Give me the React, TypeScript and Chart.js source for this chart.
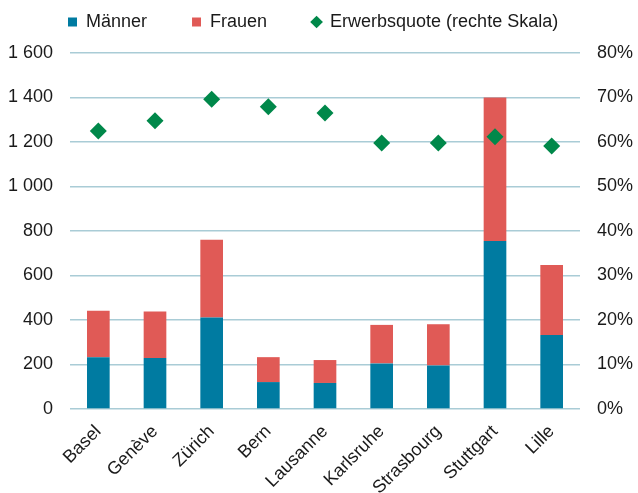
import React, { useEffect, useRef } from "react";
import { Chart, registerables } from "chart.js";

Chart.register(...registerables);

const categories = ["Basel", "Genève", "Zürich", "Bern", "Lausanne", "Karlsruhe", "Strasbourg", "Stuttgart", "Lille"];
const maenner = [233, 229, 411, 121, 117, 205, 196, 755, 333];
const frauen = [209, 209, 350, 112, 103, 173, 185, 645, 314];
const erwerbsquote = [62.5, 64.8, 69.6, 67.9, 66.5, 59.8, 59.8, 61.2, 59.1];
const leftTicks = [0, 200, 400, 600, 800, 1000, 1200, 1400, 1600];
const rightTicks = [0, 10, 20, 30, 40, 50, 60, 70, 80];

const BLUE = "#007BA1";
const RED = "#E05A56";
const GREEN = "#00884A";
const GRID = "#A9CCD6";
const TEXT = "#1a1a1a";
const FONT = "'Liberation Sans', Arial, sans-serif";
const COLORS = [BLUE, RED, GREEN];

const legendTweak = {
  id: "legendTweak",
  beforeInit(chart: any) {
    const lg = chart.legend;
    if (!lg) return;
    const origFit = lg.fit;
    lg.fit = function () {
      origFit.call(this);
      this.height = 53;
    };
    const origDraw = lg.draw;
    lg.draw = function () {
      const t = this.top;
      const l = this.left;
      this.top = t - 32;
      this.left = l + 23;
      origDraw.call(this);
      this.top = t;
      this.left = l;
    };
  },
};

export default function App() {
  const ref = useRef<HTMLCanvasElement>(null);
  useEffect(() => {
    if (!ref.current) return;
    const chart = new Chart(ref.current, {
      type: "bar",
      data: {
        labels: categories,
        datasets: [
          { label: "Männer", data: maenner, backgroundColor: BLUE, stack: "s", yAxisID: "y", order: 1, barPercentage: 0.8, categoryPercentage: 0.5 } as any,
          { label: "Frauen", data: frauen, backgroundColor: RED, stack: "s", yAxisID: "y", order: 1, barPercentage: 0.8, categoryPercentage: 0.5 } as any,
          {
            type: "line",
            label: "Erwerbsquote (rechte Skala)",
            data: erwerbsquote,
            yAxisID: "y1",
            showLine: false,
            pointStyle: "rectRot",
            pointRadius: 8.5,
            pointBackgroundColor: GREEN,
            pointBorderColor: GREEN,
            pointBorderWidth: 0,
            backgroundColor: GREEN,
            borderColor: GREEN,
            borderWidth: 0,
            order: 0,
          } as any,
        ],
      },
      plugins: [legendTweak],
      options: {
        animation: false,
        responsive: true,
        maintainAspectRatio: false,
        layout: { padding: 0 },
        plugins: {
          legend: {
            position: "top",
            align: "start",
            labels: {
              usePointStyle: true,
              boxWidth: 9,
              boxHeight: 9,
              padding: 45,
              color: TEXT,
              font: { family: FONT, size: 18 },
              sort: (a: any, b: any) => a.datasetIndex - b.datasetIndex,
              generateLabels: (c: any) => {
                const items = Chart.defaults.plugins.legend.labels.generateLabels(c);
                return items.map((it: any) => ({
                  ...it,
                  pointStyle: it.datasetIndex === 2 ? "rectRot" : "rect",
                  fillStyle: COLORS[it.datasetIndex],
                  strokeStyle: COLORS[it.datasetIndex],
                  lineWidth: 0,
                }));
              },
            },
          },
          tooltip: { enabled: false },
        },
        scales: {
          x: {
            stacked: true,
            grid: { display: false },
            border: { display: false },
            afterFit: (s: any) => {
              s.height = 84;
              s.paddingLeft = 0;
              s.paddingRight = 0;
            },
            ticks: {
              color: TEXT,
              font: { family: FONT, size: 18 },
              maxRotation: 45,
              minRotation: 45,
              padding: 4,
            },
          },
          y: {
            stacked: true,
            position: "left",
            min: 0,
            max: 1600,
            afterBuildTicks: (s: any) => { s.ticks = leftTicks.map((v) => ({ value: v })); },
            afterFit: (s: any) => { s.width = 70; },
            grid: { color: GRID, lineWidth: 1.5, drawTicks: false },
            border: { display: false },
            ticks: {
              color: TEXT,
              font: { family: FONT, size: 18 },
              padding: 17,
              callback: (v: any) => String(v).replace(/\B(?=(\d{3})+(?!\d))/g, " "),
            },
          },
          y1: {
            position: "right",
            min: 0,
            max: 80,
            afterBuildTicks: (s: any) => { s.ticks = rightTicks.map((v) => ({ value: v })); },
            afterFit: (s: any) => { s.width = 58; },
            grid: { display: false, drawTicks: false },
            border: { display: false },
            ticks: {
              color: TEXT,
              font: { family: FONT, size: 18 },
              padding: 17,
              callback: (v: any) => v + "%",
            },
          },
        },
      },
    });
    return () => chart.destroy();
  }, []);
  return (
    <div style={{ position: "fixed", left: 0, top: 0, width: 638, height: 493, background: "#fff" }}>
      <canvas ref={ref} />
    </div>
  );
}
